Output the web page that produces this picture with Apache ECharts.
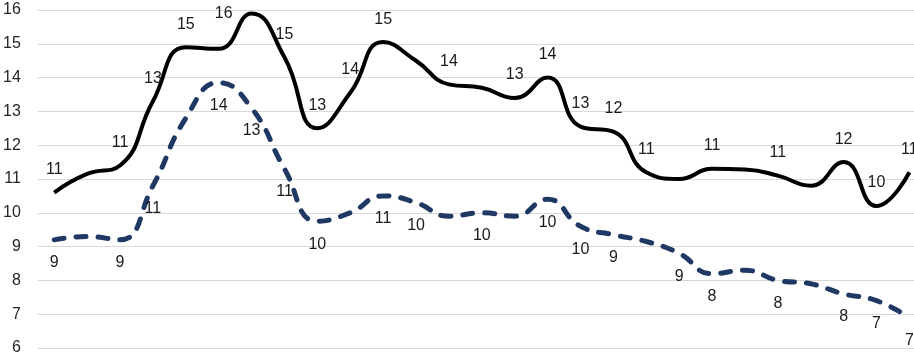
<!DOCTYPE html>
<html>
<head>
<meta charset="utf-8">
<script src="https://cdn.jsdelivr.net/npm/echarts@6/dist/echarts.min.js"></script>
<style>
html,body{margin:0;padding:0;background:#fff;}
#chart{width:914px;height:356px;}
</style>
</head>
<body>
<div id="chart"></div>
<script>
var categories = ["1","2","3","4","5","6","7","8","9","10","11","12","13","14","15","16","17","18","19","20","21","22","23","24","25","26","27"];
var solidValues = [10.6, 11.15, 11.4, 13.3, 14.9, 14.85, 15.9, 14.6, 12.5, 13.55, 15.05, 14.5, 13.8, 13.7, 13.4, 14.0, 12.55, 12.4, 11.2, 11.0, 11.3, 11.28, 11.1, 10.8, 11.5, 10.2, 11.2];
var dashedValues = [9.2, 9.3, 9.2, 10.8, 12.8, 13.85, 13.1, 11.3, 9.75, 10.0, 10.5, 10.3, 9.9, 10.0, 9.9, 10.4, 9.6, 9.35, 9.15, 8.8, 8.2, 8.3, 8.0, 7.9, 7.6, 7.4, 6.9];
var solidLabelShown = [1,0,1,1,1,0,1,1,1,1,1,0,1,0,1,1,1,1,1,0,1,0,1,0,1,1,1];
var dashedLabelShown = [1,0,1,1,0,1,1,1,1,0,1,1,0,1,0,1,1,1,0,1,1,0,1,0,1,1,1];
var yTicks = [6, 7, 8, 9, 10, 11, 12, 13, 14, 15, 16];

var labelFont = {fontFamily: 'Liberation Sans, Arial, sans-serif', fontSize: 16, color: '#1a1a1a', opacity: 1};

function pairs(values) {
  return values.map(function (v, i) { return [i, v]; });
}
function labelData(values, shown, special) {
  var out = [];
  values.forEach(function (v, i) {
    if (!shown[i]) return;
    var item = {value: [i, v], name: categories[i]};
    if (special && special[i]) item.label = special[i];
    out.push(item);
  });
  return out;
}
function labelSeries(values, shown, pos, special) {
  return {
    type: 'scatter',
    data: labelData(values, shown, special),
    symbol: 'circle',
    symbolSize: 0,
    itemStyle: {color: '#000000'},
    silent: true,
    z: 5,
    label: Object.assign({show: true, position: pos, distance: 15,
      formatter: function (p) { return String(Math.round(p.value[1])); }}, labelFont),
    labelLayout: {hideOverlap: false}
  };
}

var chart = echarts.init(document.getElementById('chart'), null, {renderer: 'canvas'});
chart.setOption({
  animation: false,
  backgroundColor: '#ffffff',
  grid: {left: 35, right: 0, top: 10, bottom: 7, containLabel: false},
  xAxis: {
    type: 'value',
    min: -0.5,
    max: 26.14,
    axisLine: {show: false},
    axisTick: {show: false},
    axisLabel: {show: false},
    splitLine: {show: false}
  },
  yAxis: {
    type: 'value',
    min: yTicks[0],
    max: yTicks[yTicks.length - 1],
    interval: 1,
    axisLine: {show: false},
    axisTick: {show: false},
    axisLabel: Object.assign({margin: 17}, labelFont, {color: '#262626'}),
    splitLine: {lineStyle: {color: '#d9d9d9', width: 1}}
  },
  series: [
    {
      type: 'line',
      data: pairs(dashedValues),
      smooth: 0.5,
      showSymbol: false,
      symbol: 'none',
      lineStyle: {color: '#1f3864', width: 5, type: [10, 12], cap: 'round'}
    },
    {
      type: 'line',
      data: pairs(solidValues),
      smooth: 0.5,
      showSymbol: false,
      symbol: 'none',
      lineStyle: {color: '#000000', width: 4},
      z: 3
    },
    labelSeries(dashedValues, dashedLabelShown, 'bottom'),
    labelSeries(solidValues, solidLabelShown, 'top', {6: {position: 'left', distance: 19, offset: [0, -7]}})
  ]
});
</script>
</body>
</html>
